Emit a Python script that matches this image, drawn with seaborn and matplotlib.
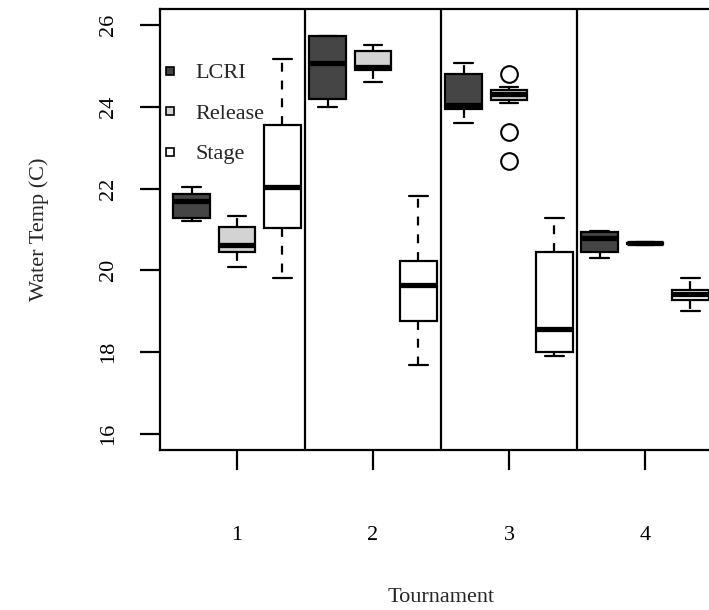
import matplotlib.pyplot as plt
from matplotlib.lines import Line2D
import pandas as pd
import seaborn as sns

tournaments = ["1", "2", "3", "4"]
groups = ["LCRI", "Release", "Stage"]
group_colors = ["#454545", "#d3d3d3", "#ffffff"]

lcri = [
    [21.20, 21.27, 21.69, 21.86, 22.03],
    [23.99, 24.19, 25.07, 25.73, 25.75],
    [23.62, 23.94, 24.04, 24.80, 25.07],
    [20.29, 20.46, 20.78, 20.95, 20.97],
]
release = [
    [20.07, 20.44, 20.61, 21.05, 21.34],
    [24.60, 24.90, 24.97, 25.36, 25.53],
    [22.67, 23.38, 24.09, 24.18, 24.22, 24.27, 24.31, 24.35, 24.39, 24.42, 24.46, 24.48, 24.82],
    [20.62, 20.64, 20.66, 20.68, 20.69],
]
stage = [
    [19.80, 21.03, 22.03, 23.57, 25.17],
    [17.67, 18.75, 19.65, 20.24, 21.83],
    [17.91, 17.99, 18.57, 20.44, 21.29],
    [19.01, 19.28, 19.43, 19.53, 19.80],
]

rows = []
for group, values in zip(groups, [lcri, release, stage]):
    for t, temps in zip(tournaments, values):
        for v in temps:
            rows.append({"Tournament": t, "Group": group, "Temp": v})
df = pd.DataFrame(rows)

sns.set_style("ticks")
plt.rcParams["font.family"] = ["Liberation Serif", "DejaVu Serif"]

fig = plt.figure(figsize=(7.09, 6.10), dpi=100)
ax = fig.add_axes([160 / 709, 160 / 610, 562 / 709, 441 / 610])

sns.boxplot(
    data=df, x="Tournament", y="Temp", hue="Group",
    order=tournaments, hue_order=groups, palette=group_colors,
    saturation=1, width=1.0, gap=0.19, linecolor="black", linewidth=1.6,
    whiskerprops={"linestyle": (0, (4, 4))},
    medianprops={"linewidth": 3.8},
    fliersize=12,
    flierprops={"marker": "o", "markerfacecolor": "none",
                "markeredgecolor": "black", "markeredgewidth": 1.5},
    legend=False, ax=ax,
)

for x in [0.5, 1.5, 2.5]:
    ax.axvline(x, color="black", lw=1.6)

ax.set_xlim(-0.566, 3.566)
ax.set_ylim(15.6, 26.4)
ax.set_yticks([16, 18, 20, 22, 24, 26])
for side in ["left", "bottom", "top", "right"]:
    ax.spines[side].set_linewidth(1.6)
    ax.spines[side].set_color("black")
ax.tick_params(axis="both", length=14.4, width=1.6, labelsize=16, colors="black")
ax.tick_params(axis="y", labelrotation=90, pad=16)
ax.tick_params(axis="x", pad=40)
for lab in ax.get_yticklabels():
    lab.set_va("center")

ax.set_xlabel("Tournament", fontsize=16, labelpad=31)
ax.set_ylabel("Water Temp (C)", fontsize=16, labelpad=36)

handles = [
    Line2D([], [], marker="s", linestyle="none", markersize=6,
           markerfacecolor=c, markeredgecolor="black", markeredgewidth=1.2)
    for c in group_colors
]
ax.legend(handles, groups, loc="upper left", bbox_to_anchor=(0.006, 0.878),
          frameon=False, fontsize=16, handlelength=0.6, handletextpad=0.84,
          labelspacing=0.9, borderpad=0, borderaxespad=0)

fig.savefig("out.png", dpi=100)
plt.close(fig)
